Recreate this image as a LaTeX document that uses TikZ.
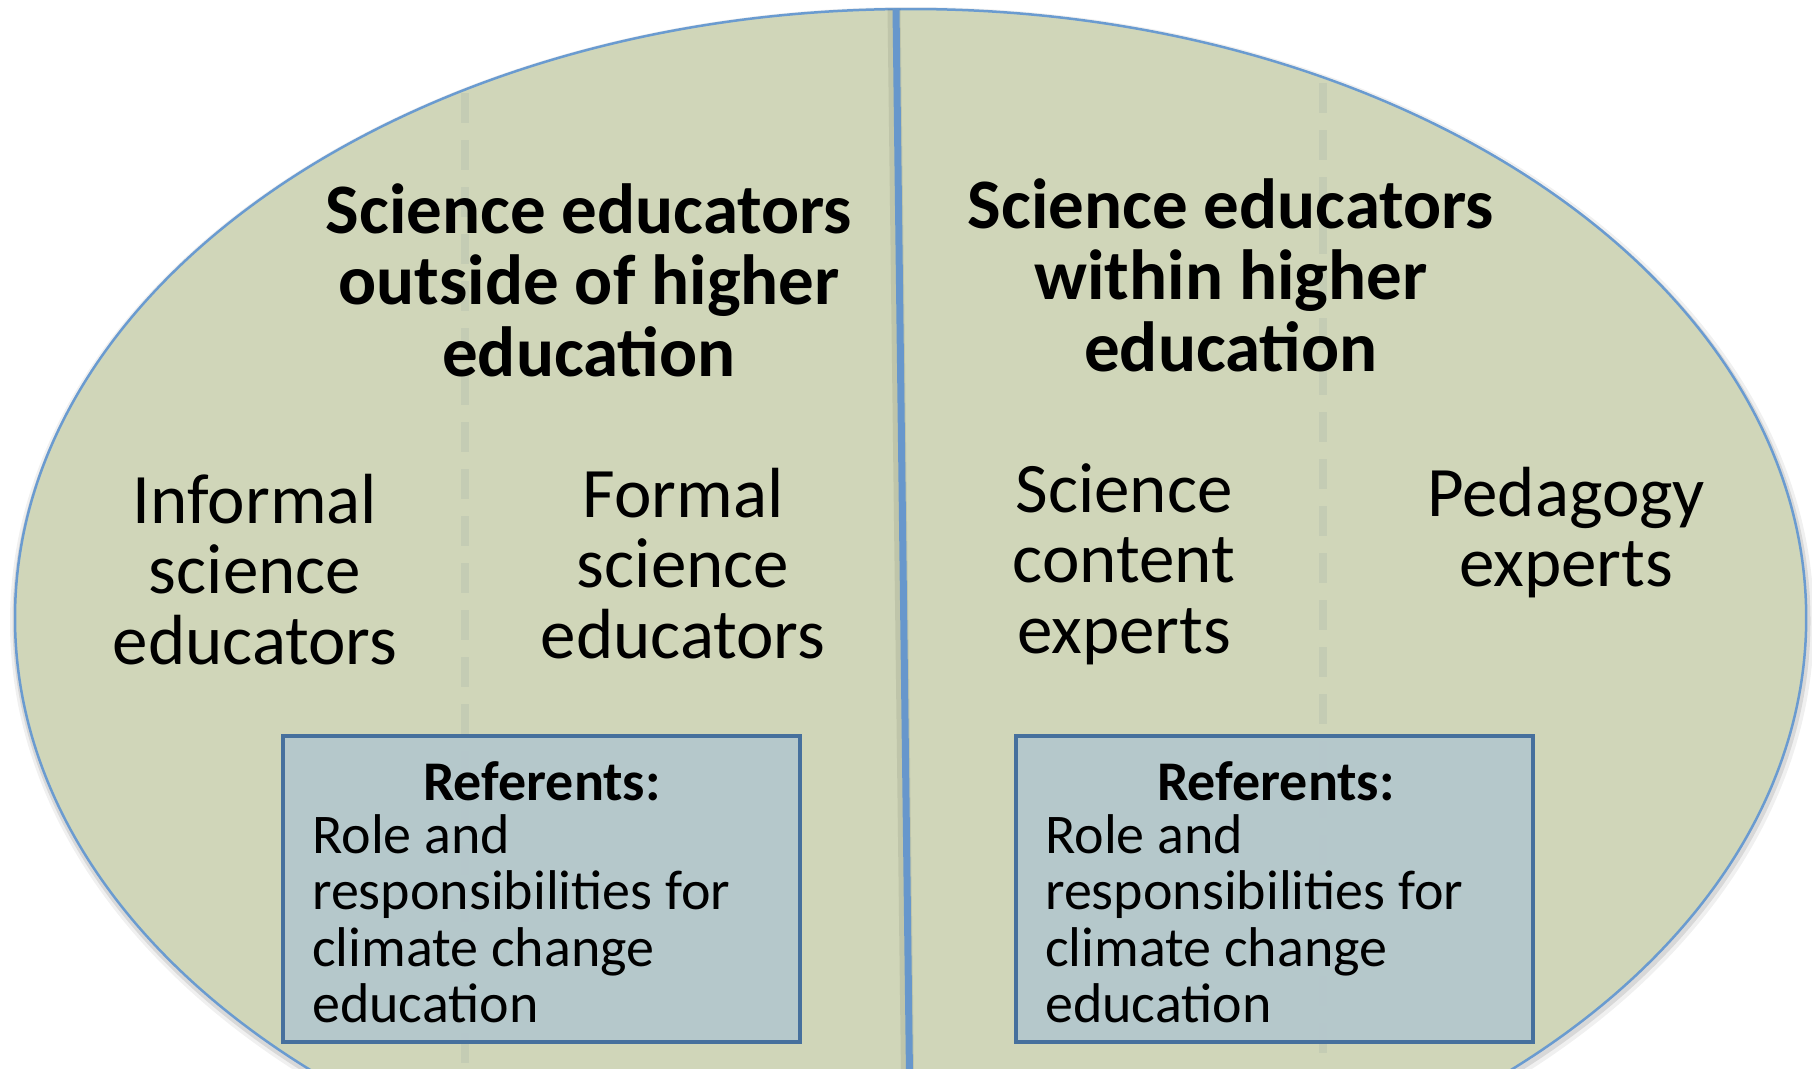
\documentclass[tikz,border=0pt]{standalone}
\usepackage{fontspec}
\setmainfont{Carlito}
\definecolor{ellfill}{HTML}{D0D6B9}
\definecolor{ellline}{HTML}{6A9BD0}
\definecolor{divline}{HTML}{6797CC}
\definecolor{dashcol}{HTML}{C4CCB4}
\definecolor{boxfill}{HTML}{B4C7CD}
\definecolor{boxline}{HTML}{46709D}
\newcommand\mytxtc[2]{\parbox[t]{#1}{\centering #2}}
\newcommand\mytxtl[2]{\parbox[t]{#1}{\raggedright #2}}
\begin{document}
\begin{tikzpicture}[x=1pt,y=-1pt,
  headtxt/.style={inner sep=0pt, anchor=base, font=\fontsize{71}{71.5}\selectfont\bfseries},
  subtxt/.style={inner sep=0pt, anchor=base, font=\fontsize{71}{70.5}\selectfont},
  reftitle/.style={inner sep=0pt, anchor=base, font=\fontsize{56}{56.5}\selectfont\bfseries},
  reftxt/.style={inner sep=0pt, anchor=base west, font=\fontsize{56}{56.5}\selectfont},
  refbox/.style={draw=boxline, line width=4pt, fill=boxfill, fill opacity=0.93, draw opacity=1,
     minimum width=517pt, minimum height=306pt, inner sep=0pt},
  dashline/.style={draw=dashcol, line width=8pt, dash pattern=on 30pt off 17pt},
  divider/.style={draw=divline, line width=7pt},
]
\useasboundingbox (0,0) rectangle (1812,1068);
\begin{scope}
\clip (0,0) rectangle (1812,1068);
% soft shadow of the ellipse
\draw[black, opacity=0.06, line width=12pt] (912,622) ellipse [x radius=896pt, y radius=609pt];
\draw[black, opacity=0.10, line width=6pt] (911.5,621) ellipse [x radius=896pt, y radius=609pt];
% ellipse
\path[fill=ellfill, draw=ellline, line width=2.5pt] (910.6,618) ellipse [x radius=895.6pt, y radius=609pt];
% dashed sub-dividers
\coordinate (dlTop) at (465,93);
\coordinate (dlBot) at (465,1075);
\coordinate (drTop) at (1323,83);
\coordinate (drBot) at (1323,1075);
\draw[dashline] (dlTop) -- (dlBot);
\draw[dashline] (drTop) -- (drBot);
% main divider
\coordinate (divTop) at (896,9);
\coordinate (divBot) at (909.5,1075);
\draw[black, opacity=0.08, line width=13pt] ([xshift=-2pt]divTop) -- ([xshift=-2pt]divBot);
\draw[divider] (divTop) -- (divBot);
% referent boxes
\node[refbox] (boxL) at (541.5,889) {};
\node[refbox] (boxR) at (1274.5,889) {};
\end{scope}
% headings
\node[headtxt] (headL) at (589,233) {\mytxtc{700pt}{Science educators\\outside of higher\\education}};
\node[headtxt] (headR) at (1231,228) {\mytxtc{700pt}{Science educators\\within higher\\education}};
% sub groups
\node[subtxt] (informal) at (255,523) {\mytxtc{400pt}{Informal\\science\\educators}};
\node[subtxt] (formal) at (683,517) {\mytxtc{400pt}{Formal\\science\\educators}};
\node[subtxt] (content) at (1124,512) {\mytxtc{400pt}{Science\\content\\experts}};
\node[subtxt] (pedagogy) at (1566,516) {\mytxtc{400pt}{Pedagogy\\experts}};
% box texts
\node[reftitle] (refL) at (542,800) {Referents:};
\node[reftxt] (refLtxt) at (312,853) {\mytxtl{480pt}{Role and\\responsibilities for\\climate change\\education}};
\node[reftitle] (refR) at (1276,800) {Referents:};
\node[reftxt] (refRtxt) at (1045,853) {\mytxtl{480pt}{Role and\\responsibilities for\\climate change\\education}};
\end{tikzpicture}
\end{document}
